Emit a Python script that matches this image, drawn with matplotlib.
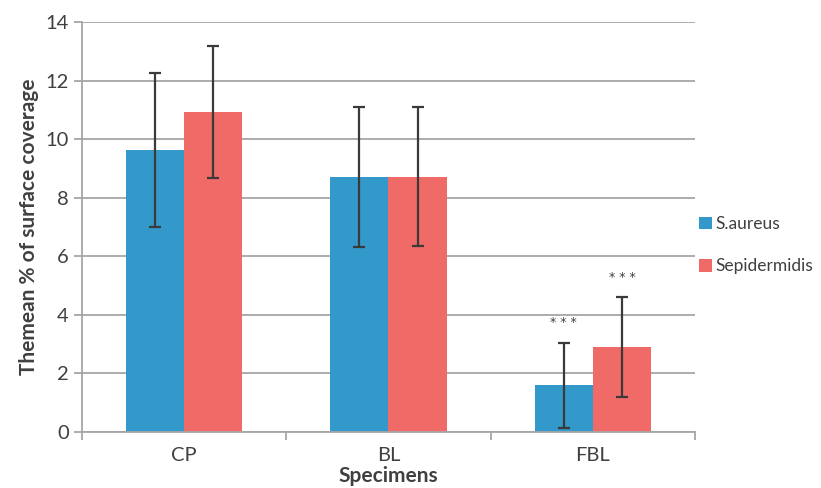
import matplotlib
matplotlib.use('Agg')
import matplotlib.pyplot as plt
import numpy as np

plt.rcParams['font.family'] = ['Lato', 'DejaVu Sans']

categories = ['CP', 'BL', 'FBL']
series_names = ['S.aureus', 'Sepidermidis']
aureus_mean = [9.62, 8.71, 1.60]
aureus_err = [2.63, 2.40, 1.45]
epid_mean = [10.92, 8.71, 2.89]
epid_err = [2.25, 2.37, 1.71]
stars = ['', '', '* * *']

blue = '#3399CB'
red = '#F06B67'
grey = '#A6A6A6'
text_col = '#404040'

fig = plt.figure(figsize=(8.21, 4.88), dpi=100)
ax = fig.add_axes([0.0999, 0.1148, 0.7466, 0.8402])

x = np.arange(len(categories))
w = 0.285
b1 = ax.bar(x - w / 2, aureus_mean, w, color=blue, label=series_names[0], zorder=2)
b2 = ax.bar(x + w / 2, epid_mean, w, color=red, label=series_names[1], zorder=2)
ax.errorbar(x - w / 2, aureus_mean, yerr=aureus_err, fmt='none', ecolor='#3a3a3a',
            elinewidth=1.6, capsize=4, capthick=1.6, zorder=3)
ax.errorbar(x + w / 2, epid_mean, yerr=epid_err, fmt='none', ecolor='#3a3a3a',
            elinewidth=1.6, capsize=4, capthick=1.6, zorder=3)

# significance marks above the FBL bars
for i, s in enumerate(stars):
    if s:
        ax.text(x[i] - w / 2, aureus_mean[i] + aureus_err[i] + 0.45, s, ha='center',
                va='bottom', fontsize=9, color=text_col, family='DejaVu Sans')
        ax.text(x[i] + w / 2, epid_mean[i] + epid_err[i] + 0.45, s, ha='center',
                va='bottom', fontsize=9, color=text_col, family='DejaVu Sans')

ax.set_xlim(-0.5, 2.5)
ax.set_ylim(0, 14)
ax.set_yticks(range(0, 15, 2))
ax.set_xticks(x)
ax.set_xticklabels(categories)
ax.set_xticks([-0.5, 0.5, 1.5, 2.5], minor=True)
ax.tick_params(axis='x', which='major', length=0, pad=11, labelsize=14.5, labelcolor=text_col)
ax.tick_params(axis='x', which='minor', length=6, width=1.3, color=grey)
ax.tick_params(axis='y', length=6, width=1.3, color=grey, labelsize=14.5, labelcolor=text_col)

ax.grid(axis='y', color=grey, linewidth=1.3, zorder=0)
for side in ['top', 'right']:
    ax.spines[side].set_visible(False)
for side in ['left', 'bottom']:
    ax.spines[side].set_color(grey)
    ax.spines[side].set_linewidth(1.3)

ax.set_ylabel('Themean % of surface coverage', fontsize=15, fontweight='bold',
              color=text_col, labelpad=5)
ax.set_xlabel('Specimens', fontsize=15, fontweight='bold', color=text_col, labelpad=1.5)

fig.legend(handles=[b1, b2], loc='upper left', bbox_to_anchor=(0.851, 0.557),
           frameon=False, borderpad=0, borderaxespad=0,
           handlelength=0.75, handleheight=0.75, handletextpad=0.2,
           labelspacing=1.5, fontsize=12.5, labelcolor=text_col)

fig.savefig('out.png', dpi=100)
